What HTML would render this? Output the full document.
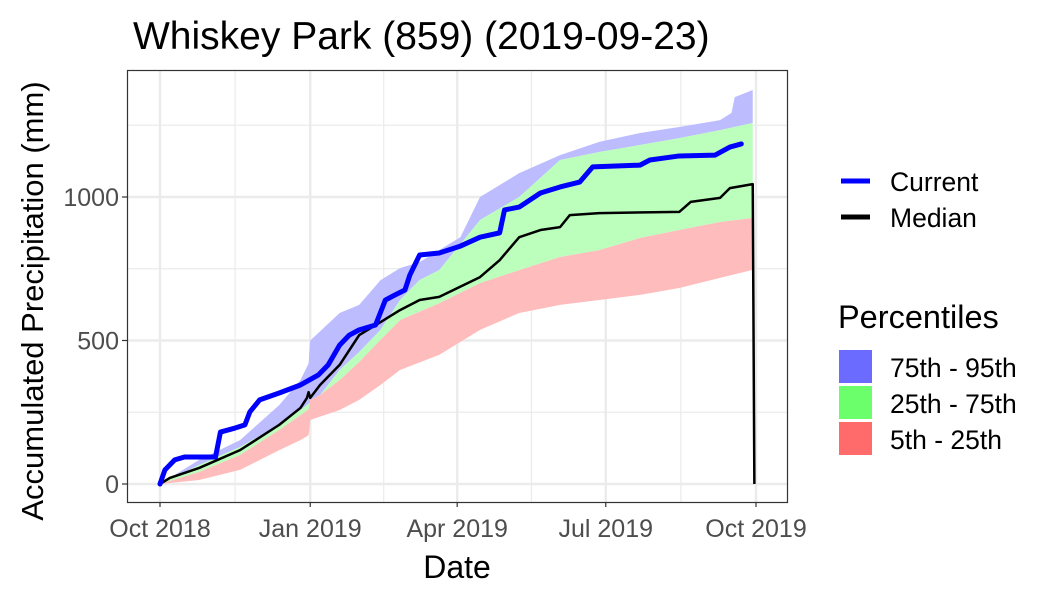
<!DOCTYPE html>
<html><head><meta charset="utf-8"><style>
body{margin:0;background:#fff;}
svg text{font-family:"Liberation Sans",sans-serif;}
</style></head><body>
<svg id="chart" width="1050" height="600" viewBox="0 0 1050 600" xmlns="http://www.w3.org/2000/svg">
<text x="133" y="49" font-size="39" fill="#000">Whiskey Park (859) (2019-09-23)</text>
<g id="grid"></g>
<g id="bands"></g>
<g id="lines"></g>
<rect x="127.5" y="70.5" width="660" height="432" fill="none" stroke="#333" stroke-width="1.2"/>
<g id="axes"></g>
<text x="457" y="578" font-size="32" text-anchor="middle">Date</text>
<text transform="translate(43,301) rotate(-90)" font-size="31" text-anchor="middle">Accumulated Precipitation (mm)</text>
<g>
<line x1="841" y1="181" x2="870" y2="181" stroke="#0000ff" stroke-width="5"/>
<text x="890" y="191" font-size="26.5">Current</text>
<line x1="841" y1="217" x2="870" y2="217" stroke="#000" stroke-width="5"/>
<text x="890" y="227" font-size="26.5">Median</text>
<text x="838" y="328" font-size="32.5">Percentiles</text>
<rect x="839" y="350" width="33" height="33" fill="#6b6bff"/>
<text x="890" y="377" font-size="26.5">75th - 95th</text>
<rect x="839" y="386" width="33" height="33" fill="#6bff6b"/>
<text x="890" y="413" font-size="26.5">25th - 75th</text>
<rect x="839" y="422" width="33" height="33" fill="#ff6b6b"/>
<text x="890" y="449" font-size="26.5">5th - 25th</text>
</g>
</svg>
<script>
// Days since 2018-10-01 and values in mm
const p95Days = [0,24,49,73,86,91,92,110,122,135,147,159,171,184,196,220,245,269,294,318,343,350,352,363];
const p95Vals = [0,84,153,275,362,420,500,596,624,710,752,773,815,860,1000,1083,1146,1192,1223,1244,1268,1293,1348,1373];
const p75Days = [0,24,49,73,86,98,110,122,135,147,159,171,196,220,245,269,294,318,343,363];
const p75Vals = [0,66,129,206,258,310,397,460,537,641,711,745,920,1000,1129,1157,1181,1205,1233,1258];
const p25Days = [0,24,49,73,86,91,92,98,110,122,135,147,171,196,220,245,269,294,318,343,363];
const p25Vals = [0,42,101,188,240,260,293,310,362,425,502,571,630,700,745,791,815,857,885,913,927];
const p5Days = [0,24,49,73,86,91,92,110,122,135,147,171,184,196,220,245,269,294,318,343,363];
const p5Vals = [0,14,49,118,153,170,223,258,293,345,397,450,495,537,596,624,641,659,683,718,746];
const medDays = [0,6,24,49,73,86,90,91,92,98,110,122,135,147,159,171,196,208,220,233,245,251,269,318,325,343,349,363,364];
const medVals = [0,21,56,118,206,265,300,320,300,345,415,519,564,606,641,652,721,780,860,885,895,937,944,948,983,997,1031,1045,0];
const curDays = [0,3,9,15,34,37,46,52,55,61,73,86,97,103,110,116,122,132,138,144,150,153,159,171,184,196,208,211,220,233,245,257,265,294,300,318,340,349,356];
const curVals = [0,49,84,94,94,181,195,206,251,293,317,345,380,415,484,519,537,554,641,659,676,728,798,805,829,860,875,955,965,1014,1035,1052,1105,1111,1129,1143,1146,1174,1185];
const yTicks = [0,500,1000];
const yMinor = [250,750,1250];
const xTickDays = [0,92,182,273,365];
const xTickLabels = ["Oct 2018","Jan 2019","Apr 2019","Jul 2019","Oct 2019"];

const NS="http://www.w3.org/2000/svg";
function xs(d){return 160+d*(596/365);}
function ys(v){return 484-v*0.287;}
function mk(tag,attrs,parent){const e=document.createElementNS(NS,tag);for(const k in attrs)e.setAttribute(k,attrs[k]);parent.appendChild(e);return e;}
function interp(days,vals,d){if(d<=days[0])return vals[0];for(let i=1;i<days.length;i++){if(d<=days[i]){const t=(d-days[i-1])/(days[i]-days[i-1]||1);return vals[i-1]+t*(vals[i]-vals[i-1]);}}return vals[vals.length-1];}
const grid=document.getElementById('grid'),bands=document.getElementById('bands'),lines=document.getElementById('lines'),axes=document.getElementById('axes');
yMinor.forEach(v=>{const l=mk('line',{x1:127,x2:787,y1:ys(v),y2:ys(v),stroke:'#ebebeb','stroke-width':1.2},grid);

});
for(let i=0;i<xTickDays.length-1;i++){const m=(xs(xTickDays[i])+xs(xTickDays[i+1]))/2;const l=mk('line',{x1:m,x2:m,y1:70,y2:502,stroke:'#ebebeb','stroke-width':1.2},grid);

}
yTicks.forEach(v=>{const l=mk('line',{x1:127,x2:787,y1:ys(v),y2:ys(v),stroke:'#ebebeb','stroke-width':2.4},grid);

});
xTickDays.forEach(d=>{const l=mk('line',{x1:xs(d),x2:xs(d),y1:70,y2:502,stroke:'#ebebeb','stroke-width':2.4},grid);

});
function band(upD,upV,loD,loV,fill,name){
 const all=[...new Set([...upD,...loD])].sort((a,b)=>a-b);
 let pts=all.map(d=>xs(d)+','+ys(interp(upD,upV,d)));
 pts=pts.concat(all.slice().reverse().map(d=>xs(d)+','+ys(interp(loD,loV,d))));
 const p=mk('polygon',{points:pts.join(' '),fill:fill},bands);
 
 
}
band(p95Days,p95Vals,p75Days,p75Vals,'#bcbcff','band-75-95');
band(p75Days,p75Vals,p25Days,p25Vals,'#bcffbc','band-25-75');
band(p25Days,p25Vals,p5Days,p5Vals,'#ffbcbc','band-5-25');
const med=mk('polyline',{points:medDays.map((d,i)=>xs(d)+','+ys(medVals[i])).join(' '),fill:'none',stroke:'#000','stroke-width':2.5,'stroke-linejoin':'round'},lines);


const cur=mk('polyline',{points:curDays.map((d,i)=>xs(d)+','+ys(curVals[i])).join(' '),fill:'none',stroke:'#0000ff','stroke-width':5,'stroke-linejoin':'round','stroke-linecap':'round'},lines);


yTicks.forEach(v=>{const t=mk('line',{x1:122,x2:127,y1:ys(v),y2:ys(v),stroke:'#333','stroke-width':1.2},axes);


const tx=mk('text',{x:119,y:ys(v)+9,'font-size':25,fill:'#4d4d4d','text-anchor':'end'},axes);tx.textContent=v;

});
xTickDays.forEach((d,i)=>{const t=mk('line',{x1:xs(d),x2:xs(d),y1:502,y2:507,stroke:'#333','stroke-width':1.2},axes);


const tx=mk('text',{x:xs(d),y:537,'font-size':25,fill:'#4d4d4d','text-anchor':'middle'},axes);tx.textContent=xTickLabels[i];

});
</script>
</body></html>
